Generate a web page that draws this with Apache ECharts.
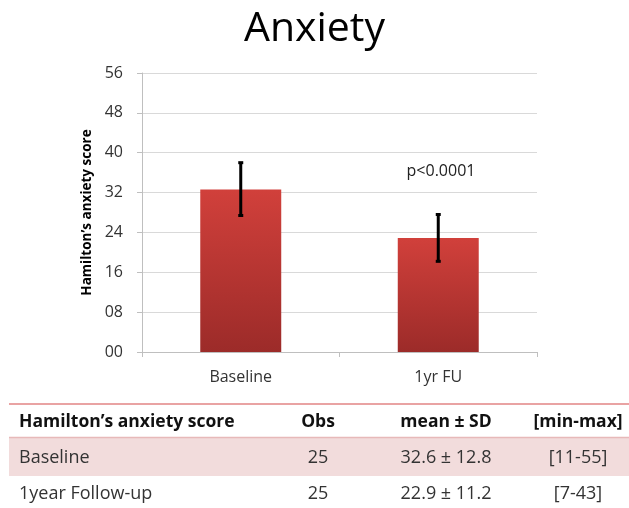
<!DOCTYPE html>
<html><head><meta charset="utf-8">
<script src="https://cdn.jsdelivr.net/npm/echarts@6/dist/echarts.min.js"></script>
<style>html,body{margin:0;padding:0;background:#fff}#c{width:629px;height:508px}</style>
</head><body><div id="c"></div>
<script>
const categories = ['Baseline', '1yr FU'];
const means = [32.6, 22.9];
const errLow = [27.4, 18.2];
const errHigh = [38.0, 27.6];
const yTicks = [0, 8, 16, 24, 32, 40, 48, 56];
const tableHeader = ["Hamilton\u2019s anxiety score", 'Obs', 'mean \u00b1 SD', '[min-max]'];
const tableRow1 = ['Baseline', '25', '32.6 \u00b1 12.8', '[11-55]'];
const tableRow2 = ['1year Follow-up', '25', '22.9 \u00b1 11.2', '[7-43]'];

const FONT = '"Open Sans", sans-serif';
const chart = echarts.init(document.getElementById('c'));

const colX = [19, 318, 446, 578];
const colAlign = ['left', 'center', 'center', 'center'];
function rowTexts(row, y, bold) {
  return row.map((t, i) => ({
    type: 'text', x: colX[i], y: y,
    style: { text: t, x: 0, y: 0, textAlign: colAlign[i], textVerticalAlign: 'middle',
      font: (bold ? 'bold 17.5px ' : '18px ') + FONT, fill: bold ? '#111' : '#333' }
  }));
}
const graphics = [
  { type: 'rect', shape: { x: 9, y: 437, width: 620, height: 39 }, style: { fill: '#f2dcdc' } },
  { type: 'line', shape: { x1: 9, y1: 404, x2: 629, y2: 404 }, style: { stroke: '#e9a3a3', lineWidth: 2 } },
  { type: 'line', shape: { x1: 9, y1: 437.5, x2: 629, y2: 437.5 }, style: { stroke: '#e7b9b9', lineWidth: 1.5 } },
  { type: 'text', x: 441, y: 171, style: { text: 'p<0.0001', x: 0, y: 0, textAlign: 'center', textVerticalAlign: 'middle', font: '16px ' + FONT, fill: '#222' } }
].concat(rowTexts(tableHeader, 422, true), rowTexts(tableRow1, 458, false), rowTexts(tableRow2, 494, false));

chart.setOption({
  animation: false,
  title: { text: 'Anxiety', left: 'center', top: 4, textStyle: { fontFamily: FONT, fontSize: 41, fontWeight: 'normal', color: '#000' } },
  grid: { left: 142, right: 92, top: 73, bottom: 156 },
  xAxis: {
    type: 'category', data: categories,
    axisLine: { lineStyle: { color: '#bfbfbf' } },
    axisTick: { show: true, length: 5, lineStyle: { color: '#bfbfbf' } },
    axisLabel: { fontFamily: FONT, fontSize: 16, color: '#333', margin: 17 }
  },
  yAxis: {
    type: 'value', min: 0, max: 56, interval: 8,
    name: 'Hamilton\u2019s anxiety score', nameLocation: 'middle', nameGap: 44, nameRotate: 90,
    nameTextStyle: { fontFamily: FONT, fontSize: 13.5, fontWeight: 'bold', color: '#000' },
    axisLine: { show: true, lineStyle: { color: '#bfbfbf' } },
    axisTick: { show: true, length: 5, lineStyle: { color: '#bfbfbf' } },
    splitLine: { lineStyle: { color: '#d9d9d9' } },
    axisLabel: { fontFamily: FONT, fontSize: 16, color: '#333', margin: 19,
      formatter: v => String(v).padStart(2, '0') }
  },
  series: [
    { type: 'bar', data: means, barWidth: '41%',
      itemStyle: { color: new echarts.graphic.LinearGradient(0, 0, 0, 1, [
        { offset: 0, color: '#d1403b' }, { offset: 1, color: '#9c2b29' }]) } },
    { type: 'custom', data: categories.map((c, i) => [i, errLow[i], errHigh[i]]),
      renderItem: (params, api) => {
        const lo = api.coord([api.value(0), api.value(1)]);
        const hi = api.coord([api.value(0), api.value(2)]);
        const st = { stroke: '#000', lineWidth: 3 };
        return { type: 'group', children: [
          { type: 'line', shape: { x1: lo[0], y1: lo[1], x2: hi[0], y2: hi[1] }, style: st },
          { type: 'line', shape: { x1: lo[0] - 2.5, y1: lo[1], x2: lo[0] + 2.5, y2: lo[1] }, style: st },
          { type: 'line', shape: { x1: hi[0] - 2.5, y1: hi[1], x2: hi[0] + 2.5, y2: hi[1] }, style: st }
        ] };
      }, z: 5 }
  ],
  graphic: graphics
});
</script></body></html>
